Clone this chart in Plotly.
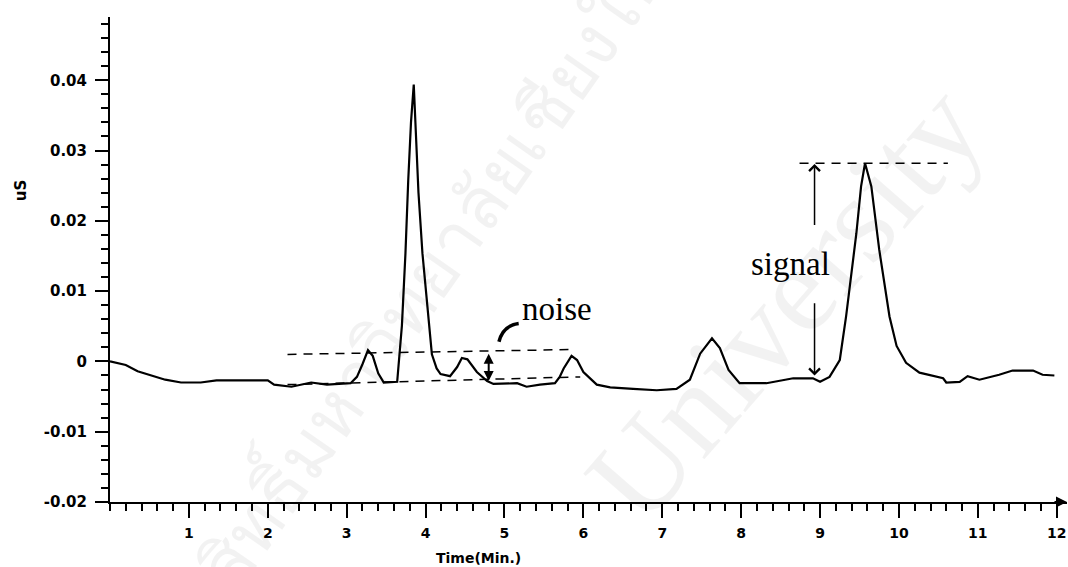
import plotly.graph_objects as go

# chromatogram trace (time in min, conductivity in uS)
time_min = [0.00, 0.10, 0.20, 0.35, 0.55, 0.70, 0.90, 1.15, 1.35, 1.70, 2.00, 2.08,
            2.30, 2.55, 2.75, 3.05, 3.13, 3.20, 3.27, 3.33, 3.40, 3.47, 3.64, 3.70,
            3.745, 3.78, 3.815, 3.85, 3.87, 3.91, 3.96, 4.00, 4.04, 4.08, 4.14, 4.19,
            4.31, 4.40, 4.46, 4.53, 4.65, 4.78, 4.86, 5.16, 5.28, 5.45, 5.64, 5.70,
            5.75, 5.85, 5.92, 6.00, 6.17, 6.34, 6.63, 6.93, 7.18, 7.35, 7.48, 7.63,
            7.73, 7.84, 7.98, 8.32, 8.66, 8.91, 9.00, 9.12, 9.25, 9.33, 9.46, 9.52,
            9.57, 9.65, 9.75, 9.88, 9.97, 10.09, 10.26, 10.56, 10.60, 10.77, 10.87,
            11.02, 11.27, 11.44, 11.70, 11.82, 11.97]
signal_us = [0.0000, -0.0002, -0.0005, -0.0014, -0.0021, -0.0026, -0.0030, -0.0030,
             -0.0027, -0.0027, -0.0027, -0.0033, -0.0036, -0.0030, -0.0033, -0.0031,
             -0.0022, -0.0004, 0.0016, 0.0008, -0.0017, -0.0030, -0.0029, 0.0051,
             0.0154, 0.0257, 0.0340, 0.0394, 0.0340, 0.0240, 0.0154, 0.0103, 0.0050,
             0.0010, -0.0010, -0.0018, -0.0021, -0.0008, 0.0005, 0.0003, -0.0015,
             -0.0028, -0.0032, -0.0031, -0.0036, -0.0033, -0.0031, -0.0022, -0.0010,
             0.0008, 0.0002, -0.0015, -0.0033, -0.0037, -0.0039, -0.0041, -0.0039,
             -0.0026, 0.0011, 0.0033, 0.0019, -0.0012, -0.0031, -0.0031, -0.0024,
             -0.0024, -0.0029, -0.0022, 0.0002, 0.0064, 0.0182, 0.0249, 0.0282,
             0.0249, 0.0159, 0.0064, 0.0022, -0.0002, -0.0016, -0.0024, -0.0030,
             -0.0029, -0.0021, -0.0026, -0.0019, -0.0013, -0.0013, -0.0019, -0.0020]

# dashed guide lines
noise_top_x = [2.25, 5.90]
noise_top_y = [0.0010, 0.0017]
noise_base_x = [2.25, 5.96]
noise_base_y = [-0.0033, -0.0022]
signal_top_x = [8.74, 10.62]
signal_top_y = [0.0282, 0.0282]

x_ticks = list(range(1, 13))
y_ticks = [-0.02, -0.01, 0, 0.01, 0.02, 0.03, 0.04]
y_labels = ['-0.02', '-0.01', '0', '0.01', '0.02', '0.03', '0.04']

fig = go.Figure()

dash_style = dict(color='black', width=1.5, dash='9px,7px')
for xs, ys in [(noise_top_x, noise_top_y), (noise_base_x, noise_base_y), (signal_top_x, signal_top_y)]:
    fig.add_trace(go.Scatter(x=xs, y=ys, mode='lines', line=dash_style, hoverinfo='skip'))

fig.add_trace(go.Scatter(x=time_min, y=signal_us, mode='lines',
                         line=dict(color='black', width=2.2), name='uS'))

x_font = dict(family='DejaVu Sans', size=14, color='black', weight='bold')
y_font = dict(family='DejaVu Sans', size=15, color='black', weight='bold')

fig.update_xaxes(range=[0, 12.13], showline=True, linecolor='black', linewidth=2,
                 ticks='outside', ticklen=14, tickwidth=2, tickcolor='black',
                 tickvals=x_ticks, tickfont=x_font, ticklabelstandoff=3,
                 ticklabeloverflow='allow', automargin=False,
                 showgrid=False, zeroline=False,
                 minor=dict(dtick=0.2, tick0=0, ticks='outside', ticklen=7,
                            tickwidth=1.5, tickcolor='black', showgrid=False))
fig.update_yaxes(range=[-0.02, 0.049], showline=True, linecolor='black', linewidth=2,
                 ticks='outside', ticklen=13, tickwidth=2, tickcolor='black',
                 tickvals=y_ticks, ticktext=y_labels, tickfont=y_font,
                 ticklabelstandoff=5, automargin=False,
                 showgrid=False, zeroline=False,
                 minor=dict(dtick=0.002, tick0=0, ticks='outside', ticklen=7,
                            tickwidth=1.5, tickcolor='black', showgrid=False))

serif = dict(family='Liberation Serif, Times New Roman', size=33, color='black')
mark = 'rgba(0,0,0,0.05)'
annotations = [
    # watermark
    dict(text='ลิขสิทธิ์มหาวิทยาลัยเชียงใหม่', xref='paper', yref='paper', x=0.32, y=0.44,
         xanchor='center', yanchor='middle', showarrow=False, textangle=-55,
         font=dict(family='Noto Sans, sans-serif', size=72, color=mark)),
    dict(text='University', xref='paper', yref='paper', x=0.705, y=0.41,
         xanchor='center', yanchor='middle', showarrow=False, textangle=-49,
         font=dict(family='Liberation Serif', size=125, color=mark)),
    # axis labels
    dict(text='uS', xref='paper', yref='paper', x=-0.093, y=0.643, xanchor='center',
         yanchor='middle', showarrow=False, textangle=-90,
         font=dict(family='DejaVu Sans', size=15, weight='bold')),
    dict(text='Time(Min.)', xref='x', yref='paper', x=4.67, y=-0.115, xanchor='center',
         yanchor='middle', showarrow=False,
         font=dict(family='DejaVu Sans', size=14, weight='bold')),
    # x axis arrow
    dict(x=1, y=-0.02, ax=-14, ay=0, xref='paper', yref='y',
         text='', showarrow=True, arrowhead=2, arrowsize=1.1, arrowwidth=2, arrowcolor='black'),
    # labels
    dict(text='noise', x=5.66, y=0.0074, xref='x', yref='y', showarrow=False, font=serif),
    dict(text='signal', x=8.63, y=0.0138, xref='x', yref='y', showarrow=False, font=serif),
    # noise double arrow
    dict(x=4.80, y=-0.0028, ax=4.80, ay=0.0013, xref='x', yref='y', axref='x', ayref='y',
         text='', showarrow=True, arrowhead=2, startarrowhead=2, arrowside='end+start',
         arrowsize=1, arrowwidth=2, arrowcolor='black'),
    # signal arrows
    dict(x=8.93, y=0.0281, ax=8.93, ay=0.0192, xref='x', yref='y', axref='x', ayref='y',
         text='', showarrow=True, arrowhead=4, arrowsize=1.4, arrowwidth=1.5, arrowcolor='black'),
    dict(x=8.93, y=-0.0020, ax=8.93, ay=0.0085, xref='x', yref='y', axref='x', ayref='y',
         text='', showarrow=True, arrowhead=4, arrowsize=1.4, arrowwidth=1.5, arrowcolor='black'),
]

shapes = [
    # curved pointer from "noise"
    dict(type='path', xref='x', yref='y', path='M 5.18,0.0054 Q 4.98,0.0051 4.93,0.0028',
         line=dict(color='black', width=3.5)),
]

fig.update_layout(template='none', width=1068, height=567,
                  margin=dict(l=110, r=1, t=17, b=65),
                  plot_bgcolor='white', paper_bgcolor='white', showlegend=False,
                  annotations=annotations, shapes=shapes,
                  font=dict(family='DejaVu Sans', color='black'))

# page body has a default 8px margin; drop it so the figure sits at the corner
fig.write_html('out.html', config={'displayModeBar': False},
               post_script="document.body.style.margin='0';")
